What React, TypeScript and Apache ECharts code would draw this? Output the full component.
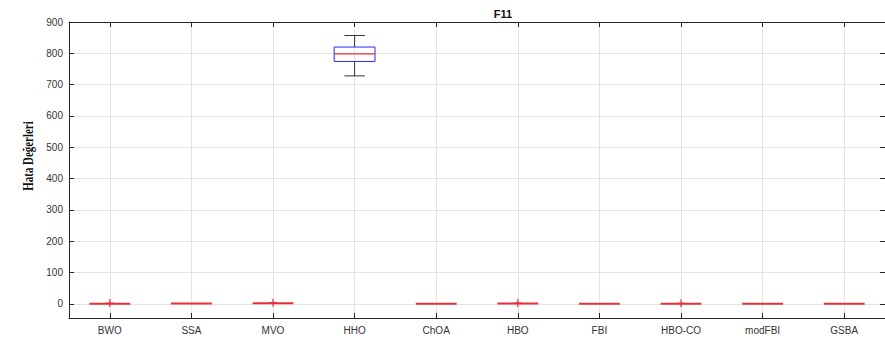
import React, { useEffect, useRef } from "react";
import * as echarts from "echarts";

const categories = ["BWO", "SSA", "MVO", "HHO", "ChOA", "HBO", "FBI", "HBO-CO", "modFBI", "GSBA"];
// [min, q1, median, q3, max] per algorithm
const whiskerLow = [0.2, 0.8, 1.0, 728, 0.1, 0.5, 0.1, 0.3, 0.1, 0.1];
const quartile1 = [0.5, 1.0, 1.5, 774, 0.2, 0.8, 0.2, 0.5, 0.2, 0.2];
const medians = [0.8, 1.2, 2.0, 798, 0.3, 1.0, 0.3, 0.7, 0.3, 0.3];
const quartile3 = [1.0, 1.4, 2.5, 820, 0.4, 1.3, 0.4, 0.9, 0.4, 0.4];
const whiskerHigh = [1.6, 1.8, 3.2, 857, 0.6, 1.8, 0.6, 1.3, 0.6, 0.6];
// outliers: [category index (1-based), value]
const outlierCat = [1, 3, 6, 8];
const outlierVal = [2.5, 4.0, 3.0, 2.0];
const yTicks = [0, 100, 200, 300, 400, 500, 600, 700, 800, 900];
const xTicks = [1, 2, 3, 4, 5, 6, 7, 8, 9, 10];

export default function App() {
  const ref = useRef<HTMLDivElement>(null);
  useEffect(() => {
    document.body.style.margin = "0";
    const chart = echarts.init(ref.current!, undefined, { renderer: "svg" });
    const boxData = categories.map((_, i) => [
      i + 1,
      whiskerLow[i],
      quartile1[i],
      medians[i],
      quartile3[i],
      whiskerHigh[i],
    ]);
    const outData = outlierCat.map((c, i) => [c, outlierVal[i]]);
    const axisColor = "#262626";
    const labelStyle = { color: "#333", fontSize: 10, fontFamily: "Liberation Sans, Arial, sans-serif" };
    chart.setOption({
      animation: false,
      grid: { left: 69, right: -6, top: 22, bottom: 25 },
      xAxis: [
        {
          type: "value",
          min: 0.5,
          max: 10.5,
          axisLine: { show: true, onZero: false, lineStyle: { color: axisColor } },
          axisTick: { show: true, inside: true, length: 5, customValues: xTicks, lineStyle: { color: axisColor } },
          axisLabel: {
            ...labelStyle,
            margin: 7,
            customValues: xTicks,
            formatter: (v: number) => categories[Math.round(v) - 1] ?? "",
          },
          splitLine: { show: true, lineStyle: { color: "#e3e3e3", width: 1 } },
        },
        {
          type: "value",
          position: "top",
          min: 0.5,
          max: 10.5,
          axisLine: { show: true, onZero: false, lineStyle: { color: axisColor } },
          axisTick: { show: true, inside: true, length: 5, customValues: xTicks, lineStyle: { color: axisColor } },
          axisLabel: { show: false },
          splitLine: { show: false },
        },
      ],
      yAxis: [
        {
          type: "value",
          min: -45,
          max: 900,
          axisLine: { show: true, onZero: false, lineStyle: { color: axisColor } },
          axisTick: { show: true, inside: true, length: 5, customValues: yTicks, lineStyle: { color: axisColor } },
          axisLabel: { ...labelStyle, margin: 6, customValues: yTicks },
          splitLine: { show: true, lineStyle: { color: "#e3e3e3", width: 1 } },
        },
        {
          type: "value",
          position: "right",
          min: -45,
          max: 900,
          axisLine: { show: true, onZero: false, lineStyle: { color: axisColor } },
          axisTick: { show: true, inside: true, length: 5, customValues: yTicks, lineStyle: { color: axisColor } },
          axisLabel: { show: false },
          splitLine: { show: false },
        },
      ],
      series: [
        {
          type: "custom",
          xAxisIndex: 0,
          yAxisIndex: 0,
          data: boxData,
          renderItem: (params: any, api: any) => {
            const x = api.value(0);
            const unit = api.size([1, 0])[0];
            const hw = unit * 0.25;
            const cw = unit * 0.125;
            const pMin = api.coord([x, api.value(1)]);
            const pQ1 = api.coord([x, api.value(2)]);
            const pMed = api.coord([x, api.value(3)]);
            const pQ3 = api.coord([x, api.value(4)]);
            const pMax = api.coord([x, api.value(5)]);
            const cx = pMin[0];
            const wStyle = { stroke: "#333", lineWidth: 1, fill: "none" };
            const tall = pQ1[1] - pQ3[1] > 3;
            const children: any[] = [];
            if (tall) {
              children.push(
                { type: "line", shape: { x1: cx, y1: pQ1[1], x2: cx, y2: pMin[1] }, style: wStyle },
                { type: "line", shape: { x1: cx, y1: pQ3[1], x2: cx, y2: pMax[1] }, style: wStyle },
                { type: "line", shape: { x1: cx - cw, y1: pMin[1], x2: cx + cw, y2: pMin[1] }, style: wStyle },
                { type: "line", shape: { x1: cx - cw, y1: pMax[1], x2: cx + cw, y2: pMax[1] }, style: wStyle },
                {
                  type: "rect",
                  shape: { x: cx - hw, y: pQ3[1], width: hw * 2, height: pQ1[1] - pQ3[1] },
                  style: { stroke: "#2b2bf0", lineWidth: 1, fill: "none" },
                }
              );
            }
            children.push({
              type: "line",
              shape: { x1: cx - hw, y1: pMed[1], x2: cx + hw, y2: pMed[1] },
              style: { stroke: "#e8303a", lineWidth: tall ? 1.2 : 2 },
            });
            return { type: "group", children };
          },
        },
        {
          type: "custom",
          xAxisIndex: 0,
          yAxisIndex: 0,
          data: outData,
          renderItem: (params: any, api: any) => {
            const p = api.coord([api.value(0), api.value(1)]);
            const s = { stroke: "#e8303a", lineWidth: 1.2 };
            return {
              type: "group",
              children: [
                { type: "line", shape: { x1: p[0] - 4, y1: p[1], x2: p[0] + 4, y2: p[1] }, style: s },
                { type: "line", shape: { x1: p[0], y1: p[1] - 4, x2: p[0], y2: p[1] + 4 }, style: s },
              ],
            };
          },
        },
      ],
      graphic: [
        {
          type: "text",
          x: 503,
          y: 14,
          style: {
            text: "F11",
            fill: "#111",
            font: "bold 11px Liberation Sans, Arial, sans-serif",
            textAlign: "center",
            textVerticalAlign: "middle",
          },
        },
        {
          type: "text",
          x: 29,
          y: 156,
          rotation: Math.PI / 2,
          scaleX: 0.78,
          style: {
            text: "Hata Değerleri",
            fill: "#111",
            font: "bold 14px Liberation Serif, Times New Roman, serif",
            textAlign: "center",
            textVerticalAlign: "middle",
          },
        },
      ],
    });
    return () => chart.dispose();
  }, []);
  return <div ref={ref} style={{ width: 885, height: 343 }} />;
}
